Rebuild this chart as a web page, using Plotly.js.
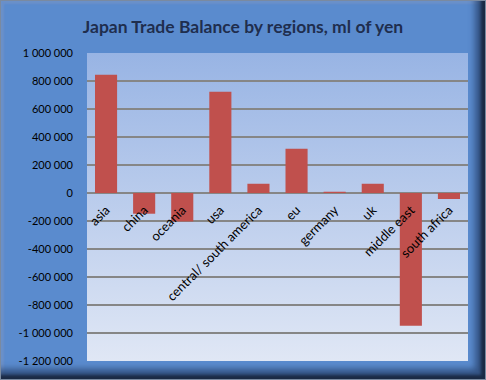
<!DOCTYPE html>
<html>
<head>
<meta charset="utf-8">
<script src="https://cdn.plot.ly/plotly-3.0.1.min.js"></script>
<style>
html,body{margin:0;padding:0;background:#ffffff;}
#frame{position:absolute;left:0;top:0;width:484px;height:378px;background:#5a8bce;border:1px solid #7a8aa0;
box-shadow: inset -4px -4px 3px rgba(25,40,65,0.95), inset -10px -10px 6px rgba(35,60,100,0.7), inset 3px 3px 2px rgba(110,145,200,0.8);}
#chart{position:absolute;left:0;top:0;width:486px;height:380px;}
</style>
</head>
<body>
<div id="frame"></div>
<div id="chart"></div>
<script>
var regions = ["asia", "china", "oceania", "usa", "central/ south america", "eu", "germany", "uk", "middle east", "south africa"];
var balance = [845000, -148000, -203000, 723000, 66000, 316000, 9000, 66000, -948000, -43000];
var yTickVals = [1000000, 800000, 600000, 400000, 200000, 0, -200000, -400000, -600000, -800000, -1000000, -1200000];
var yTickText = ["1 000 000", "800 000", "600 000", "400 000", "200 000", "0", "-200 000", "-400 000", "-600 000", "-800 000", "-1 000 000", "-1 200 000"];

var grad = 'data:image/svg+xml;utf8,' + encodeURIComponent(
  '<svg xmlns="http://www.w3.org/2000/svg" width="100" height="100" preserveAspectRatio="none">' +
  '<defs><linearGradient id="g" x1="0" y1="0" x2="0" y2="1">' +
  '<stop offset="0" stop-color="#98b4e4"/><stop offset="1" stop-color="#e0e7f5"/></linearGradient></defs>' +
  '<rect width="100" height="100" fill="url(#g)"/></svg>');

var yMin = -1200000, yMax = 1000000;

var trace = {
  type: 'bar',
  x: regions,
  y: balance,
  marker: {color: '#c0504d'},
  hoverinfo: 'x+y'
};

var layout = {
  width: 486, height: 380,
  margin: {l: 87, r: 18, t: 53, b: 19, pad: 0},
  paper_bgcolor: 'rgba(0,0,0,0)',
  plot_bgcolor: 'rgba(0,0,0,0)',
  bargap: 0.42,
  showlegend: false,
  font: {family: 'Lato, "Open Sans", sans-serif', color: '#000000', size: 11},
  title: {
    text: 'Japan Trade Balance by regions, ml of yen',
    font: {family: 'Lato, "Open Sans", sans-serif', size: 17.5, color: '#1f2e4e', weight: 'bold'},
    x: 0.5, xref: 'container', xanchor: 'center', y: 0.93, yref: 'container', yanchor: 'middle'
  },
  xaxis: {
    type: 'category',
    anchor: 'free',
    position: (0 - yMin) / (yMax - yMin),
    tickangle: -45,
    showgrid: false,
    showline: false,
    zeroline: false,
    ticks: '',
    ticklabelstandoff: 6,
    tickfont: {size: 13, color: '#000000'},
    fixedrange: true
  },
  yaxis: {
    range: [yMin, yMax],
    tickvals: yTickVals,
    ticktext: yTickText,
    showgrid: true,
    gridcolor: '#868686',
    gridwidth: 1.3,
    zeroline: true,
    zerolinecolor: '#868686',
    zerolinewidth: 1.3,
    showline: false,
    ticks: '',
    ticklabelstandoff: 13,
    tickfont: {size: 11, color: '#000000'},
    fixedrange: true
  },
  images: [{
    source: grad, xref: 'paper', yref: 'paper', x: 0, y: 1, sizex: 1, sizey: 1,
    sizing: 'stretch', layer: 'below', xanchor: 'left', yanchor: 'top'
  }]
};

Plotly.newPlot('chart', [trace], layout, {displayModeBar: false, staticPlot: true});
</script>
</body>
</html>
